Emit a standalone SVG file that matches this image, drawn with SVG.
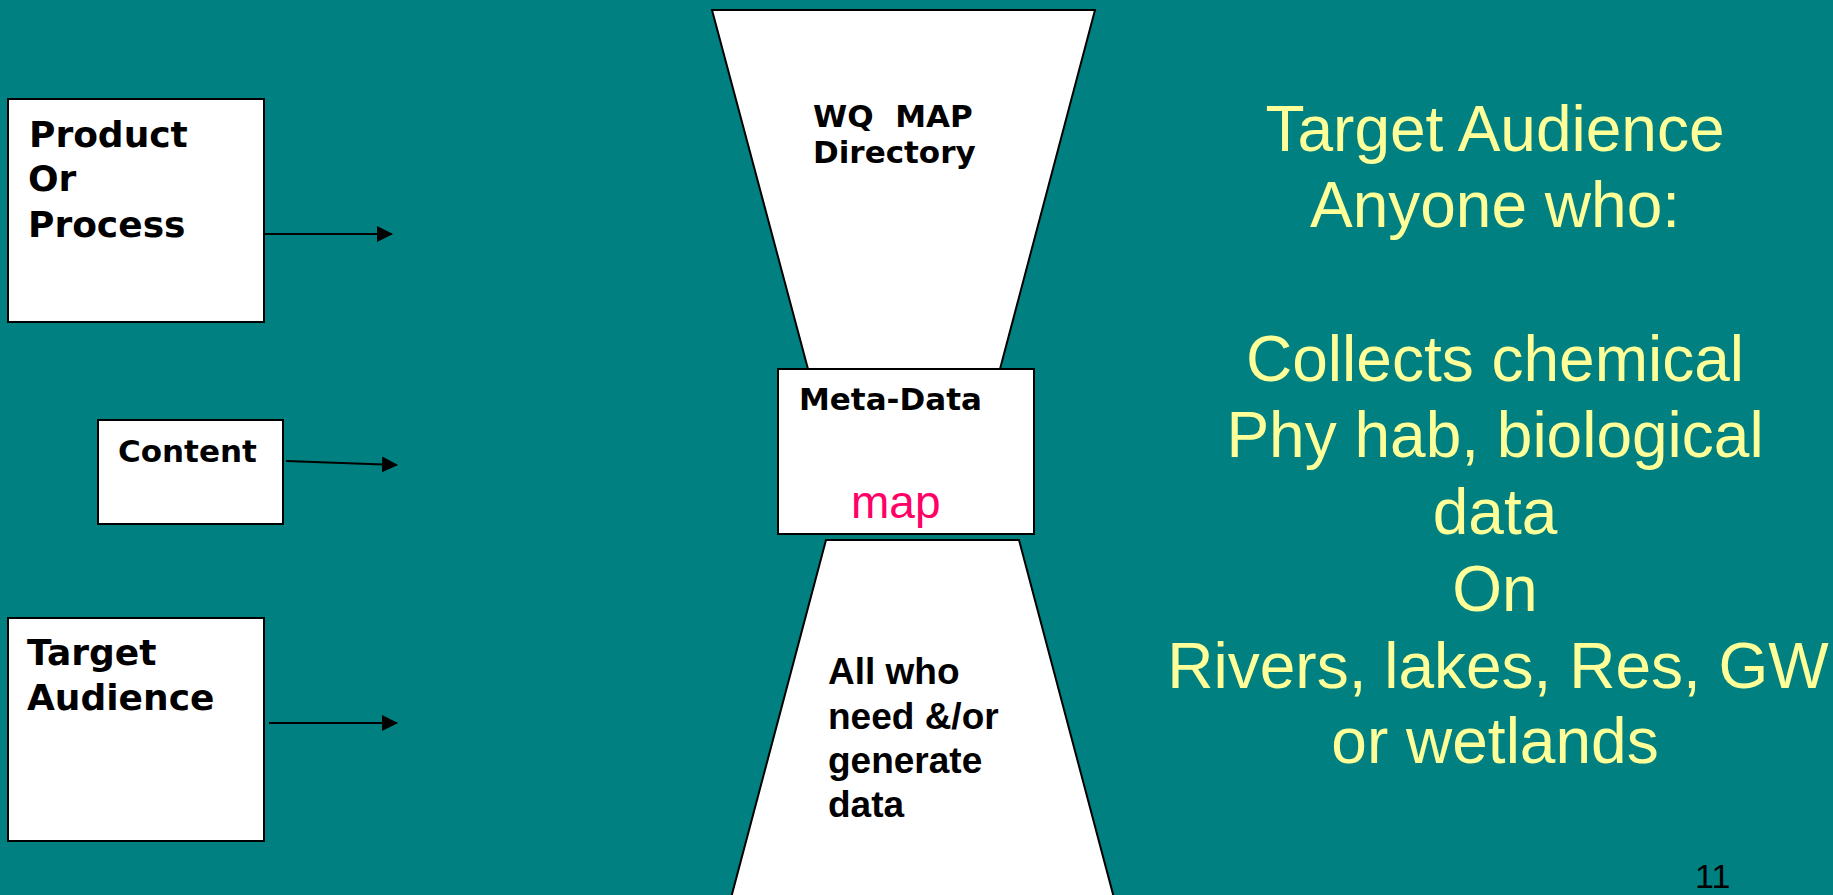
<svg xmlns="http://www.w3.org/2000/svg" width="1833" height="895" viewBox="0 0 1833 895">
<style>
.box{fill:#fff;stroke:#000;stroke-width:2}
.vb{font-family:"DejaVu Sans",Verdana,sans-serif;font-weight:bold;fill:#000}
.ab{font-family:"Liberation Sans",Arial,sans-serif;font-weight:bold;fill:#000;font-size:37px}
.yl{font-family:"Liberation Sans",Arial,sans-serif;fill:#FFFF99;font-size:64px;text-anchor:middle}
.conn{stroke:#000;stroke-width:2;fill:none;marker-end:url(#ah)}
</style>
<defs>
<marker id="ah" markerUnits="userSpaceOnUse" markerWidth="16" markerHeight="16" refX="15" refY="8" orient="auto">
<path d="M0,0 L16,8 L0,16 Z" fill="#000"/>
</marker>
</defs>
<rect x="0" y="0" width="1833" height="895" fill="#008080"/>
<g id="product">
<rect class="box" x="8" y="99" width="256" height="223"/>
<text class="vb" font-size="36" x="29" y="147">Product</text>
<text class="vb" font-size="36" x="28" y="191">Or</text>
<text class="vb" font-size="36" x="28" y="237">Process</text>
</g>
<g id="content">
<rect class="box" x="98" y="420" width="185" height="104"/>
<text class="vb" font-size="31" x="118" y="462">Content</text>
</g>
<g id="target">
<rect class="box" x="8" y="618" width="256" height="223"/>
<text class="vb" font-size="36" x="27" y="665">Target</text>
<text class="vb" font-size="36" x="27" y="710">Audience</text>
</g>
<g id="directory">
<polygon class="box" points="712,10 1095,10 1000,369 808,369"/>
<text class="vb" font-size="31" x="813" y="127" xml:space="preserve">WQ  MAP</text>
<text class="vb" font-size="31" x="813" y="163">Directory</text>
</g>
<g id="audience-funnel">
<polygon class="box" points="826,540 1019,540 1114,898 731,898"/>
<text class="ab" x="828" y="684">All who</text>
<text class="ab" x="828" y="729">need &amp;/or</text>
<text class="ab" x="828" y="773">generate</text>
<text class="ab" x="828" y="817">data</text>
</g>
<g id="metadata">
<rect class="box" x="778" y="369" width="256" height="165"/>
<text class="vb" font-size="31" x="799" y="410">Meta-Data</text>
<text x="851" y="518" font-family="Liberation Sans, Arial, sans-serif" font-size="46" fill="#FF0066">map</text>
</g>
<g id="connectors">
<line class="conn" x1="265" y1="234" x2="392" y2="234"/>
<line class="conn" x1="286" y1="461" x2="397" y2="465"/>
<line class="conn" x1="269" y1="723" x2="397" y2="723"/>
</g>
<g id="description">
<text class="yl" x="1495" y="151">Target Audience</text>
<text class="yl" x="1495" y="227">Anyone who:</text>
<text class="yl" x="1495" y="381">Collects chemical</text>
<text class="yl" x="1495" y="457">Phy hab, biological</text>
<text class="yl" x="1495" y="534">data</text>
<text class="yl" x="1495" y="611">On</text>
<text class="yl" x="1498" y="688">Rivers, lakes, Res, GW</text>
<text class="yl" x="1495" y="763">or wetlands</text>
</g>
<text id="page" x="1695" y="888" font-family="Liberation Sans, Arial, sans-serif" font-size="34" fill="#000">11</text>
</svg>
